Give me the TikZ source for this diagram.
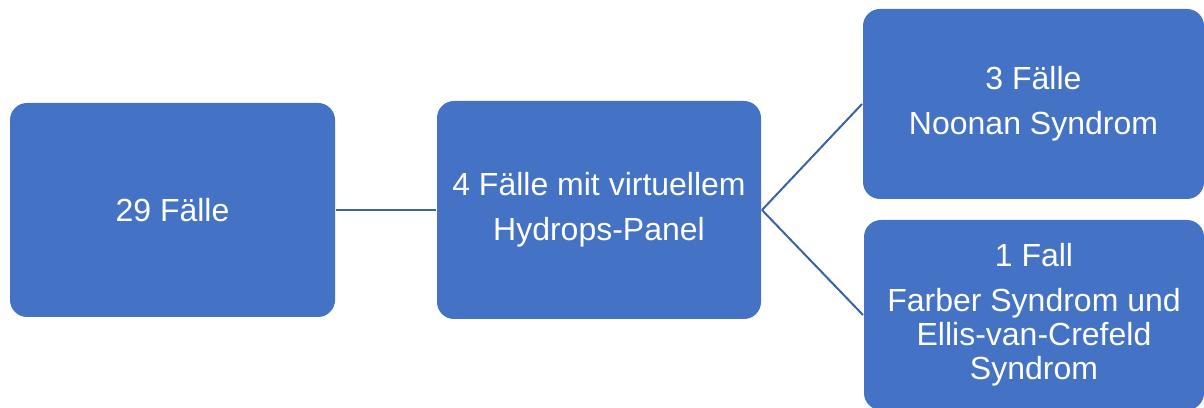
\documentclass[tikz,border=0pt]{standalone}
\usepackage{fontspec}
\setmainfont{Liberation Sans}
\usetikzlibrary{positioning}
\definecolor{boxblue}{RGB}{68,114,196}
\definecolor{lineblue}{RGB}{58,98,170}
\tikzstyle{case}=[draw=none,fill=boxblue,rounded corners=17pt,text=white,align=center,font=\fontsize{32}{34}\selectfont,inner sep=0pt,outer sep=1pt]
\tikzstyle{link}=[lineblue,line width=2pt]

\begin{document}
\begin{tikzpicture}[x=1pt,y=1pt]
    \useasboundingbox (0,0) rectangle (1204,407);
    \node[case,minimum width=325,minimum height=214] (all) at (172.5,197) {29 Fälle};
    \node[case,minimum width=324,minimum height=218] (panel) at (599,197) {4 Fälle mit virtuellem\\[11pt]Hydrops-Panel};
    \node[case,minimum width=341,minimum height=190] (noonan) at (1033.5,303) {3 Fälle\\[11pt]Noonan Syndrom};
    \node[case,minimum width=340,minimum height=190] (farber) at (1034,92) {1 Fall\\[11pt]Farber Syndrom und\\Ellis-van-Crefeld\\Syndrom};
    \draw[link] (all.east) -- (panel.west);
    \foreach \n in {noonan, farber} \draw[link] (panel.east) -- (\n.west);
\end{tikzpicture}
\end{document}
